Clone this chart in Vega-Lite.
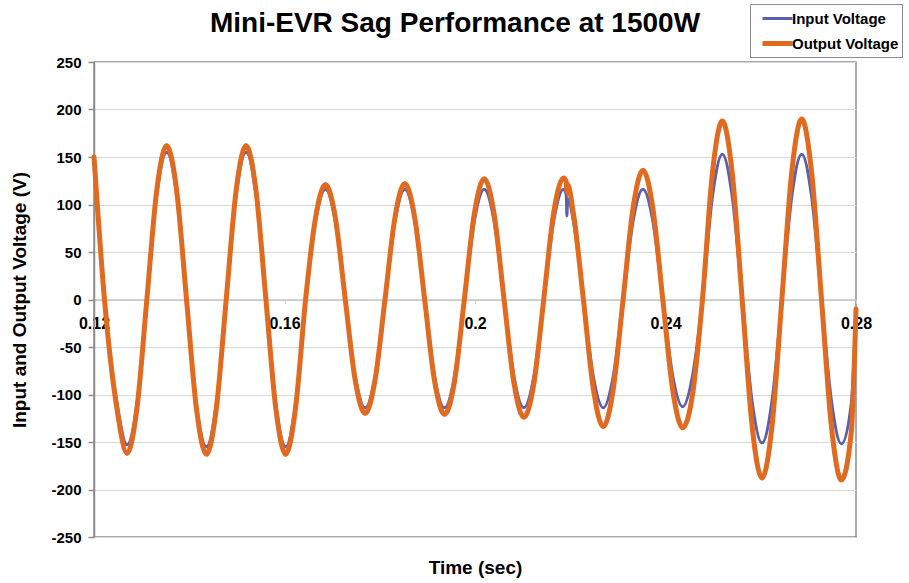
{
  "$schema": "https://vega.github.io/schema/vega-lite/v6.json",
  "width": 762,
  "height": 475,
  "autosize": {"type": "none"},
  "padding": {"left": 94, "top": 62, "right": 53, "bottom": 46},
  "background": "white",
  "title": {
    "text": "Mini-EVR Sag Performance at 1500W",
    "font": "Liberation Sans",
    "fontSize": 28,
    "fontWeight": "bold",
    "color": "#000000",
    "anchor": "middle",
    "frame": "group",
    "dx": -20,
    "offset": -34
  },
  "config": {
    "font": "Liberation Sans",
    "view": {"stroke": "#8c8c8c", "strokeWidth": 1.5}
  },
  "data": {
    "values": [
      {"t": 0.12, "Input Voltage": 146, "Output Voltage": 150},
      {"t": 0.1222, "Input Voltage": 0, "Output Voltage": 0},
      {"t": 0.12485, "Input Voltage": -110, "Output Voltage": -116},
      {"t": 0.12693, "Input Voltage": -153, "Output Voltage": -162},
      {"t": 0.12901, "Input Voltage": -110, "Output Voltage": -115},
      {"t": 0.1311, "Input Voltage": 0, "Output Voltage": 0},
      {"t": 0.13318, "Input Voltage": 110, "Output Voltage": 115},
      {"t": 0.13526, "Input Voltage": 155, "Output Voltage": 162},
      {"t": 0.13735, "Input Voltage": 110, "Output Voltage": 115},
      {"t": 0.13943, "Input Voltage": 0, "Output Voltage": 0},
      {"t": 0.14151, "Input Voltage": -110, "Output Voltage": -115},
      {"t": 0.1436, "Input Voltage": -155, "Output Voltage": -163},
      {"t": 0.14568, "Input Voltage": -110, "Output Voltage": -115},
      {"t": 0.14776, "Input Voltage": 0, "Output Voltage": 0},
      {"t": 0.14985, "Input Voltage": 110, "Output Voltage": 115},
      {"t": 0.15193, "Input Voltage": 155, "Output Voltage": 162},
      {"t": 0.15401, "Input Voltage": 110, "Output Voltage": 115},
      {"t": 0.1561, "Input Voltage": 0, "Output Voltage": 0},
      {"t": 0.15818, "Input Voltage": -110, "Output Voltage": -115},
      {"t": 0.16026, "Input Voltage": -155, "Output Voltage": -163},
      {"t": 0.16235, "Input Voltage": -108, "Output Voltage": -113},
      {"t": 0.16443, "Input Voltage": 0, "Output Voltage": 0},
      {"t": 0.16651, "Input Voltage": 82, "Output Voltage": 86},
      {"t": 0.1686, "Input Voltage": 116, "Output Voltage": 121},
      {"t": 0.17068, "Input Voltage": 82, "Output Voltage": 86},
      {"t": 0.17276, "Input Voltage": 0, "Output Voltage": 0},
      {"t": 0.17485, "Input Voltage": -81, "Output Voltage": -85},
      {"t": 0.17693, "Input Voltage": -114, "Output Voltage": -120},
      {"t": 0.17901, "Input Voltage": -81, "Output Voltage": -85},
      {"t": 0.1811, "Input Voltage": 0, "Output Voltage": 0},
      {"t": 0.18318, "Input Voltage": 82, "Output Voltage": 86},
      {"t": 0.18526, "Input Voltage": 116, "Output Voltage": 122},
      {"t": 0.18735, "Input Voltage": 82, "Output Voltage": 86},
      {"t": 0.18943, "Input Voltage": 0, "Output Voltage": 0},
      {"t": 0.19151, "Input Voltage": -81, "Output Voltage": -86},
      {"t": 0.1936, "Input Voltage": -114, "Output Voltage": -121},
      {"t": 0.19568, "Input Voltage": -81, "Output Voltage": -87},
      {"t": 0.19776, "Input Voltage": 0, "Output Voltage": 0},
      {"t": 0.19985, "Input Voltage": 82, "Output Voltage": 90},
      {"t": 0.20193, "Input Voltage": 116, "Output Voltage": 127},
      {"t": 0.20401, "Input Voltage": 82, "Output Voltage": 90},
      {"t": 0.2061, "Input Voltage": 0, "Output Voltage": 0},
      {"t": 0.20818, "Input Voltage": -81, "Output Voltage": -88},
      {"t": 0.21026, "Input Voltage": -114, "Output Voltage": -124},
      {"t": 0.21235, "Input Voltage": -81, "Output Voltage": -89},
      {"t": 0.21443, "Input Voltage": 0, "Output Voltage": 0},
      {"t": 0.21651, "Input Voltage": 82, "Output Voltage": 91},
      {"t": 0.2186, "Input Voltage": 116, "Output Voltage": 128},
      {"t": 0.21915, "Input Voltage": 110, "Output Voltage": 124},
      {"t": 0.2193, "Input Voltage": 88, "Output Voltage": 113},
      {"t": 0.21945, "Input Voltage": 106, "Output Voltage": 121},
      {"t": 0.22068, "Input Voltage": 82, "Output Voltage": 90},
      {"t": 0.22276, "Input Voltage": 0, "Output Voltage": 0},
      {"t": 0.22485, "Input Voltage": -81, "Output Voltage": -94},
      {"t": 0.22693, "Input Voltage": -114, "Output Voltage": -134},
      {"t": 0.22901, "Input Voltage": -81, "Output Voltage": -95},
      {"t": 0.2311, "Input Voltage": 0, "Output Voltage": 0},
      {"t": 0.23318, "Input Voltage": 82, "Output Voltage": 96},
      {"t": 0.23526, "Input Voltage": 116, "Output Voltage": 136},
      {"t": 0.23735, "Input Voltage": 82, "Output Voltage": 96},
      {"t": 0.23943, "Input Voltage": 0, "Output Voltage": 0},
      {"t": 0.24151, "Input Voltage": -80, "Output Voltage": -95},
      {"t": 0.2436, "Input Voltage": -113, "Output Voltage": -135},
      {"t": 0.24568, "Input Voltage": -80, "Output Voltage": -100},
      {"t": 0.24776, "Input Voltage": 0, "Output Voltage": 0},
      {"t": 0.24985, "Input Voltage": 108, "Output Voltage": 133},
      {"t": 0.25193, "Input Voltage": 153, "Output Voltage": 188},
      {"t": 0.25401, "Input Voltage": 108, "Output Voltage": 133},
      {"t": 0.2561, "Input Voltage": 0, "Output Voltage": 0},
      {"t": 0.25818, "Input Voltage": -107, "Output Voltage": -133},
      {"t": 0.26026, "Input Voltage": -151, "Output Voltage": -188},
      {"t": 0.26235, "Input Voltage": -107, "Output Voltage": -134},
      {"t": 0.26443, "Input Voltage": 0, "Output Voltage": 0},
      {"t": 0.26651, "Input Voltage": 108, "Output Voltage": 134},
      {"t": 0.2686, "Input Voltage": 153, "Output Voltage": 190},
      {"t": 0.27068, "Input Voltage": 108, "Output Voltage": 134},
      {"t": 0.27276, "Input Voltage": 0, "Output Voltage": 0},
      {"t": 0.27485, "Input Voltage": -107, "Output Voltage": -134},
      {"t": 0.27693, "Input Voltage": -152, "Output Voltage": -190},
      {"t": 0.279, "Input Voltage": -110, "Output Voltage": -140},
      {"t": 0.28, "Input Voltage": -10, "Output Voltage": -10}
    ]
  },
  "transform": [
    {"fold": ["Input Voltage", "Output Voltage"], "as": ["series", "v"]},
    {"filter": "isValid(datum.v)"}
  ],
  "mark": {"type": "line", "interpolate": "monotone", "strokeCap": "round", "strokeJoin": "round"},
  "encoding": {
    "x": {
      "field": "t",
      "type": "quantitative",
      "scale": {"domain": [0.12, 0.28], "nice": false, "zero": false},
      "axis": {
        "values": [0.12, 0.16, 0.2, 0.24, 0.28],
        "format": "~g",
        "offset": -237.5,
        "grid": false,
        "domain": true,
        "domainColor": "#c4c4c4",
        "domainWidth": 1.5,
        "ticks": true,
        "tickSize": 4,
        "tickColor": "#cfcfcf",
        "labelFlush": false,
        "labelFontSize": 16,
        "labelFontWeight": "bold",
        "labelColor": "#000000",
        "labelPadding": 12,
        "title": "Time (sec)",
        "titleFontSize": 19,
        "titleFontWeight": "bold",
        "titleColor": "#000000",
        "titleBaseline": "middle",
        "titleY": 268
      }
    },
    "y": {
      "field": "v",
      "type": "quantitative",
      "scale": {"domain": [-250, 250], "nice": false},
      "axis": {
        "values": [-250, -200, -150, -100, -50, 0, 50, 100, 150, 200, 250],
        "labelExpr": "datum.value < 0 ? '-' + abs(datum.value) : '' + datum.value",
        "grid": true,
        "gridColor": "#d9d9d9",
        "gridWidth": 1.2,
        "domain": true,
        "domainColor": "#8c8c8c",
        "domainWidth": 1.5,
        "tickColor": "#8c8c8c",
        "tickSize": 6,
        "tickWidth": 1.5,
        "labelPadding": 7,
        "labelFontSize": 15,
        "labelFontWeight": "bold",
        "labelColor": "#000000",
        "title": "Input and Output Voltage (V)",
        "titleFontSize": 19,
        "titleFontWeight": "bold",
        "titleColor": "#000000",
        "titlePadding": 21
      }
    },
    "color": {
      "field": "series",
      "type": "nominal",
      "scale": {"domain": ["Input Voltage", "Output Voltage"], "range": ["#5a5fae", "#e06a1f"]},
      "legend": {
        "title": null,
        "orient": "none",
        "legendX": 656,
        "legendY": -58,
        "symbolType": "M-1.5,0H1.5",
        "symbolSize": 400,
        "symbolOffset": 12,
        "labelFontSize": 15,
        "labelFontWeight": "bold",
        "labelColor": "#000000",
        "labelOffset": 2,
        "strokeColor": "#8c8c8c",
        "fillColor": "#ffffff",
        "padding": 3,
        "rowPadding": 4
      }
    },
    "strokeWidth": {
      "field": "series",
      "type": "nominal",
      "scale": {"type": "ordinal", "domain": ["Input Voltage", "Output Voltage"], "range": [3, 5]},
      "legend": {
        "title": null,
        "orient": "none",
        "legendX": 656,
        "legendY": -58,
        "symbolType": "M-1.5,0H1.5",
        "symbolSize": 400,
        "symbolOffset": 12,
        "labelFontSize": 15,
        "labelFontWeight": "bold",
        "labelColor": "#000000",
        "labelOffset": 2,
        "strokeColor": "#8c8c8c",
        "fillColor": "#ffffff",
        "padding": 3,
        "rowPadding": 4
      }
    }
  }
}
